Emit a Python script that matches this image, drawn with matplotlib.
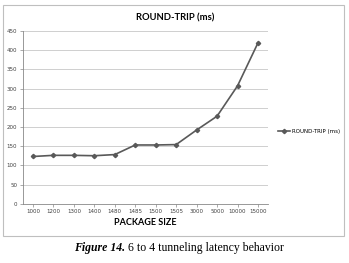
import matplotlib
matplotlib.use('Agg')
from matplotlib import pyplot as plt
from matplotlib.patches import Rectangle

# package sizes (categories) and round-trip latency in ms
sizes = ['1000', '1200', '1300', '1400', '1480', '1485', '1500', '1505',
         '3000', '5000', '10000', '15000']
rtt = [123, 126, 126, 125, 128, 153, 153, 154, 192, 228, 307, 419]

line_col = '#595959'
grid_col = '#c8c8c8'

fig = plt.figure(figsize=(3.49, 2.63), dpi=100)

# chart frame
fig.patches.append(Rectangle((3 / 349, 1 - 236 / 263), 341 / 349, 231 / 263,
                             transform=fig.transFigure, fill=False,
                             edgecolor='#bfbfbf', linewidth=0.8))

ax = fig.add_axes([22.7 / 349, 1 - 203.7 / 263, 245.5 / 349, (203.7 - 31) / 263])
x = list(range(len(sizes)))
ax.plot(x, rtt, color=line_col, linewidth=1.2, marker='D', markersize=2.2,
        label='ROUND-TRIP (ms)')

ax.set_xlim(-0.5, len(sizes) - 0.5)
ax.set_ylim(0, 450)
ax.set_yticks(range(0, 451, 50))
ax.set_xticks(x)
ax.set_xticklabels(sizes)
ax.tick_params(labelsize=4, length=2, width=0.5, color='#888888', pad=2,
               labelcolor='#404040')
ax.grid(axis='y', color=grid_col, linewidth=0.6)
ax.set_axisbelow(True)
for s in ['top', 'right']:
    ax.spines[s].set_visible(False)
for s in ['left', 'bottom']:
    ax.spines[s].set_color('#888888')
    ax.spines[s].set_linewidth(0.6)

ax.set_xlabel('PACKAGE SIZE', fontsize=6.5, fontweight='bold', labelpad=3,
              family='Lato', color='#000000')
fig.text(175 / 349, 1 - 17.5 / 263, 'ROUND-TRIP (ms)', fontsize=6.8,
         fontweight='bold', family='Lato', ha='center', va='center')

ax.legend(loc='center left', bbox_to_anchor=(1.02, 0.42), frameon=False,
          fontsize=4, handlelength=2.2, handletextpad=0.3)

# caption
fig.text(125 / 349, 1 - 248 / 263, 'Figure 14.', fontsize=8.5,
         family='Liberation Serif', fontweight='bold', style='italic',
         ha='right', va='center')
fig.text(128 / 349, 1 - 248 / 263, '6 to 4 tunneling latency behavior',
         fontsize=8.5, family='Liberation Serif', ha='left', va='center')

fig.savefig('out.png', dpi=100)
